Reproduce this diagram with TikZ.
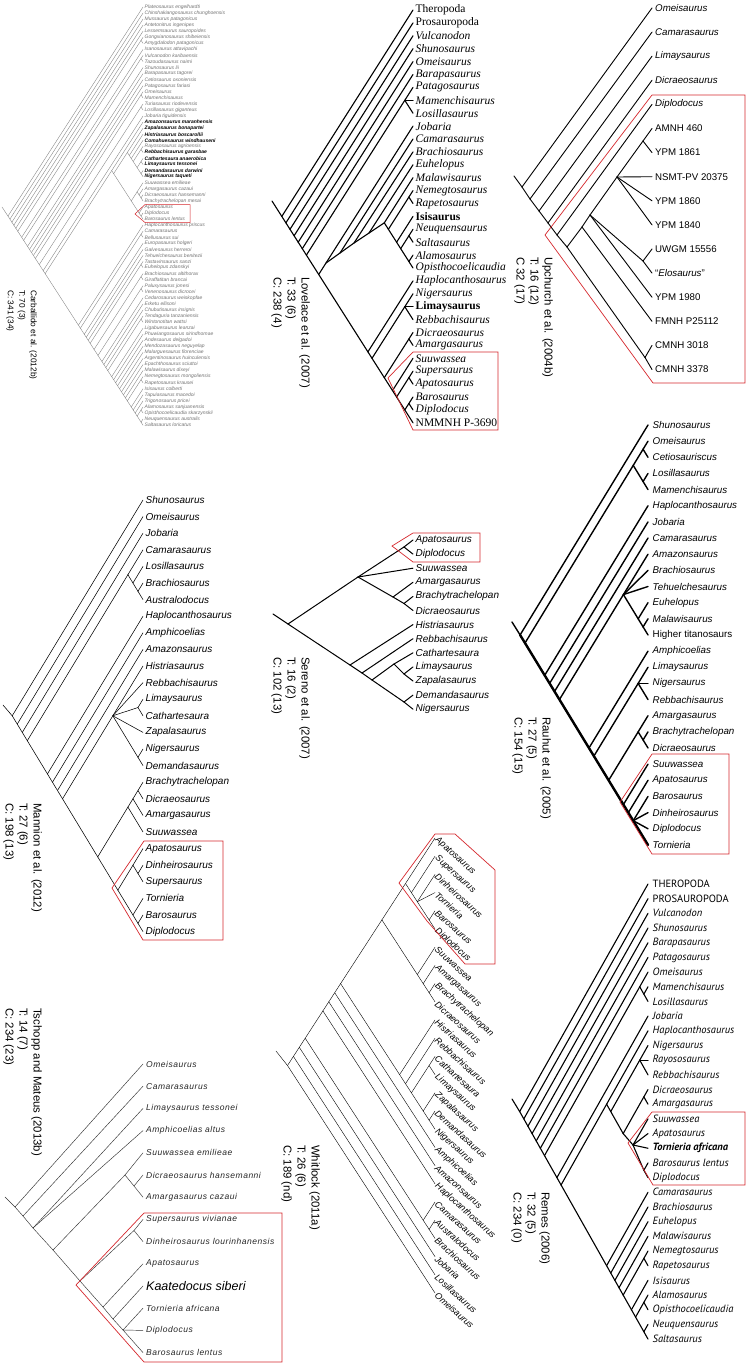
\documentclass[tikz,border=0pt]{standalone}
\usepackage{fontspec}
\setmainfont{Liberation Sans}
\newfontfamily\timesf{Liberation Serif}
\newfontfamily\myriadf{PT Sans}
\newfontfamily\spacedf[LetterSpace=6]{Liberation Sans}
\definecolor{boxred}{RGB}{214,40,46}
\tikzset{
  edge/.style={line width=1pt, line cap=round},
  lab/.style={anchor=west, inner xsep=2.5pt, inner ysep=0pt},
  ttl/.style={rotate=-90, anchor=north west, align=left, inner sep=0pt,
              font=\fontsize{11.4}{14}\selectfont},
  clade/.style={draw=boxred, line width=0.7pt, line join=miter}
}
% tree helpers: node (i-j) sits on the apex of leaves i..j
\newcommand\setnd[2]{\coordinate (\pre#1-#2) at ({\LX-(#2-#1)*\AA},{\TY+((#1+#2)/2-1)*\DY});}
\newcommand\mknd[2]{\ifcsname pgf@sh@ns@\pre#1-#2\endcsname\else\setnd{#1}{#2}\fi}
\newcommand\ed[3]{\mknd{#1}{#2}\foreach \ii/\jj in {#3}{\mknd{\ii}{\jj}\draw[edge] (\pre#1-#2) -- (\pre\ii-\jj);}}
\newcommand\comb[3]{\foreach \m [evaluate=\m as \nn using int(\m+1)] in {#1,...,#2}{\ed{\m}{#3}{\m/\m,\nn/#3}}}
\newcommand\cherry[1]{\pgfmathtruncatemacro\cc{#1+1}\ed{#1}{\cc}{#1/#1,\cc/\cc}}
\newcommand\leaves[1]{\foreach \tx [count=\kk] in {#1}{\coordinate (\pre\kk-\kk) at (\LX,{\TY+(\kk-1)*\DY}); \node[lab] (\pre t\kk) at (\pre\kk-\kk) {\tx};}}
\newcommand\rb[1]{{\bfseries\color{black}#1}}

\begin{document}
\begin{tikzpicture}[x=1pt, y=-1pt]
\fill[white] (0,0) rectangle (746,1363);
\useasboundingbox (0,0) rectangle (746,1363);

% Carballido et al. (2012b)
\begin{scope}[lab/.append style={font=\fontsize{5}{6}\selectfont\itshape, text=black!55, inner xsep=1.5pt},
  edge/.append style={line width=.35pt, draw=black!50}]
\def\pre{cb}\def\LX{143}\def\TY{7}\def\DY{6.06}\def\AA{1.957}
\leaves{Plateosaurus engelhardti, Chinshakiangosaurus chunghoensis, Mussaurus patagonicus, Antetonitrus ingenipes, Lessemsaurus sauropoides, Gongxianosaurus shibeiensis, Amygdalodon patagonicus, Isanosaurus attavipachi, Vulcanodon karibaensis, Tazoudasaurus naimi, Shunosaurus lii, Barapasaurus tagorei, Cetiosaurus oxoniensis, Patagosaurus fariasi, Omeisaurus, Mamenchisaurus, Turiasaurus riodevensis, Losillasaurus giganteus, Jobaria tiguidensis, \rb{Amazonsaurus maranhensis}, \rb{Zapalasaurus bonapartei}, \rb{Histriasaurus boscarollii}, \rb{Comahuesaurus windhauseni}, Rayososaurus agrioensis, \rb{Rebbachisaurus garasbae}, \rb{Cathartesaura anaerobica}, \rb{Limaysaurus tessonei}, \rb{Demandasaurus darwini}, \rb{Nigersaurus taqueti}, Suuwassea emilieae, Amargasaurus cazaui, Dicraeosaurus hansemanni, Brachytrachelopan mesai, Apatosaurus, Diplodocus, Barosaurus lentus, Haplocanthosaurus priscus, Camarasaurus, Bellusaurus sui, Europasaurus holgeri, Galvesaurus herreroi, Tehuelchesaurus benitezii, Tastavinsaurus sanzi, Euhelopus zdanskyi, Brachiosaurus altithorax, Giraffatitan brancai, Paluxysaurus jonesi, Venenosaurus dicrocei, Cedarosaurus weiskopfae, Erketu ellisoni, Chubutisaurus insignis, Tendaguria tanzaniensis, Wintonotitan wattsi, Ligabuesaurus leanzai, Phuwiangosaurus sirindhornae, Andesaurus delgadoi, Mendozasaurus neguyelap, Malarguesaurus florenciae, Argentinosaurus huinculensis, Epachthosaurus sciuttoi, Malawisaurus dixeyi, Nemegtosaurus mongoliensis, Rapetosaurus krausei, Isisaurus colberti, Tapuiasaurus macedoi, Trigonosaurus pricei, Alamosaurus sanjuanensis, Opisthocoelicaudia skarzynskii, Neuquensaurus australis, Saltasaurus loricatus}
\comb{1}{5}{70}
\ed{6}{70}{6/7,8/70}\cherry{6}
\ed{8}{70}{8/8,9/70}
\ed{9}{70}{9/10,11/70}\cherry{9}
\comb{11}{14}{70}
\ed{15}{70}{15/16,17/70}\cherry{15}
\ed{17}{70}{17/18,19/70}\cherry{17}
\ed{19}{70}{19/19,20/70}
\ed{20}{70}{20/36,37/70}
\ed{20}{36}{20/20,21/36}
\ed{21}{36}{21/29,30/36}
\comb{21}{23}{29}
\ed{24}{29}{24/25,26/29}\cherry{24}
\ed{26}{29}{26/27,28/29}\cherry{26}\cherry{28}
\ed{30}{36}{30/33,34/36}
\comb{30}{31}{33}\cherry{32}
\comb{34}{34}{36}\cherry{35}
\ed{37}{70}{37/37,38/70}
\ed{38}{70}{38/39,40/70}\cherry{38}
\comb{40}{42}{70}
\ed{43}{70}{43/44,45/70}\cherry{43}
\ed{45}{70}{45/46,47/70}\cherry{45}
\ed{47}{70}{47/48,49/70}\cherry{47}
\comb{49}{51}{70}
\ed{52}{70}{52/53,54/70}\cherry{52}
\comb{54}{61}{70}
\ed{62}{70}{62/63,64/70}\cherry{62}
\comb{64}{66}{70}
\ed{67}{70}{67/68,69/70}\cherry{67}\cherry{69}
\coordinate (cbst) at (2,207);
\draw[edge] (cbst) -- (cb1-70);
\draw[clade, line width=.5pt] (135,214) -- (145,204.5) -- (190,204.5) -- (190,222.5) -- (145,222.5) -- cycle;
\node[ttl, font=\fontsize{8.3}{11.5}\selectfont] (cbttl) at (37,290) {Carballido et al. (2012b)\\T: 70 (3)\\C: 341 (34)};
\end{scope}

% Lovelace et al. (2007)
\begin{scope}[lab/.append style={font=\timesf\itshape\fontsize{11.5}{13}\selectfont}, edge/.append style={line width=1.1pt}]
\def\pre{lv}\def\LX{413}\def\TY{10}\def\DY{12.9}\def\AA{4.1}
\leaves{\upshape Theropoda, \upshape Prosauropoda, Vulcanodon, Shunosaurus, Omeisaurus, Barapasaurus, Patagosaurus, Mamenchisaurus, Losillasaurus, Jobaria, Camarasaurus, Brachiosaurus, Euhelopus, Malawisaurus, Nemegtosaurus, Rapetosaurus, \upshape\bfseries Isisaurus, Neuquensaurus, Saltasaurus, Alamosaurus, Opisthocoelicaudia, Haplocanthosaurus, Nigersaurus, \upshape\bfseries Limaysaurus, Rebbachisaurus, Dicraeosaurus, Amargasaurus, Suuwassea, Supersaurus, Apatosaurus, Barosaurus, Diplodocus, \upshape NMMNH P-3690}
\coordinate (lv10-21) at (326,263);
\coordinate (lv11-21) at (340,253);
\coordinate (lv12-21) at (354,243);
\coordinate (lv13-21) at (369,233);
\comb{1}{6}{33}
\ed{7}{33}{7/9,10/33}
\ed{7}{9}{7/7,8/8,9/9}
\ed{10}{33}{10/21,22/33}
\comb{10}{13}{21}
\ed{14}{21}{14/14,15/21}
\ed{15}{21}{15/16,17/21}\cherry{15}
\ed{17}{21}{17/17,18/21}
\ed{18}{21}{18/19,20/21}\cherry{18}\cherry{20}
\ed{22}{33}{22/22,23/33}
\ed{23}{33}{23/25,26/33}
\ed{23}{25}{23/23,24/24,25/25}
\ed{26}{33}{26/27,28/33}\cherry{26}
\ed{28}{33}{28/28,29/33}
\ed{29}{33}{29/30,31/33}\cherry{29}
\ed{31}{33}{31/32,33/33}\cherry{31}
\coordinate (lvst) at (272,201);
\draw[edge] (lvst) -- (lv1-33);
\draw[clade] (413,352) -- (498,352) -- (498,430) -- (413,430) -- (388,378) -- cycle;
\node[ttl] (lvttl) at (310,277) {Lovelace et al. (2007)\\T: 33 (6)\\C: 238 (4)};
\end{scope}

% Upchurch et al. (2004b)
\begin{scope}[lab/.append style={font=\fontsize{9.7}{11}\selectfont, inner xsep=3pt}, edge/.append style={line width=.9pt}]
\def\pre{up}\def\LX{652}\def\TY{8}\def\DY{24.1}\def\AA{0}
\leaves{\itshape Omeisaurus, \itshape Camarasaurus, \itshape Limaysaurus, \itshape Dicraeosaurus, \itshape Diplodocus, AMNH 460, YPM 1861, NSMT-PV 20375, YPM 1860, YPM 1840, UWGM 15556, “\textit{Elosaurus}”, YPM 1980, FMNH P25112, CMNH 3018, CMNH 3378}
\coordinate (up1-16) at (522,187);
\coordinate (up2-16) at (530,199);
\coordinate (up3-16) at (539,211);
\coordinate (up4-16) at (548,223);
\coordinate (up5-16) at (557,235);
\coordinate (up6-16) at (567,247);
\coordinate (up6-14) at (582,227);
\coordinate (up6-13) at (590,215);
\coordinate (up6-10) at (617,177);
\coordinate (up6-7) at (643,141);
\coordinate (up11-12) at (643,261);
\coordinate (up15-16) at (645,357.5);
\comb{1}{4}{16}
\ed{5}{16}{5/5,6/16}
\ed{6}{16}{6/14,15/16}\cherry{15}
\ed{6}{14}{6/13,14/14}
\ed{6}{13}{6/10,11/12,13/13}\cherry{11}
\ed{6}{10}{6/7,8/8,9/9,10/10}\cherry{6}
\coordinate (upst) at (514,176);
\draw[edge] (upst) -- (up1-16);
\draw[clade] (652,95) -- (745,95) -- (745,383) -- (653,383) -- (545,235) -- cycle;
\node[ttl] (upttl) at (553,257) {Upchurch et al. (2004b)\\T: 16 (12)\\C 32 (17)};
\end{scope}

% Mannion et al. (2012)
\begin{scope}[lab/.append style={font=\fontsize{10}{12}\selectfont\itshape}, edge/.append style={line width=.55pt}]
\def\pre{mn}\def\LX{143}\def\TY{500}\def\DY{16.6}\def\AA{5.03}
\leaves{Shunosaurus, Omeisaurus, Jobaria, Camarasaurus, Losillasaurus, Brachiosaurus, Australodocus, Haplocanthosaurus, Amphicoelias, Amazonsaurus, Histriasaurus, Rebbachisaurus, Limaysaurus, Cathartesaura, Zapalasaurus, Nigersaurus, Demandasaurus, Brachytrachelopan, Dicraeosaurus, Amargasaurus, Suuwassea, Apatosaurus, Dinheirosaurus, Supersaurus, Tornieria, Barosaurus, Diplodocus}
\comb{1}{3}{27}
\ed{4}{27}{4/7,8/27}
\comb{4}{5}{7}\cherry{6}
\comb{8}{10}{27}
\ed{11}{27}{11/17,18/27}
\ed{11}{17}{11/11,12/12,13/14,15/15,16/17}\cherry{13}\cherry{16}
\ed{18}{27}{18/21,22/27}
\ed{18}{21}{18/20,21/21}
\ed{18}{20}{18/19,20/20}\cherry{18}
\ed{22}{27}{22/24,25/27}
\ed{22}{24}{22/22,23/24}\cherry{23}
\ed{25}{27}{25/25,26/27}\cherry{26}
\coordinate (mnst) at (3,705);
\draw[edge] (mnst) -- (mn1-27);
\draw[clade] (144,841) -- (223,841) -- (223,940) -- (143,940) -- (112,888) -- cycle;
\node[ttl] (mnttl) at (42,803) {Mannion et al. (2012)\\T: 27 (6)\\C: 198 (13)};
\end{scope}

% Sereno et al. (2007)
\begin{scope}[lab/.append style={font=\fontsize{10}{12}\selectfont\itshape}, edge/.append style={line width=1pt}]
\def\pre{sr}\def\LX{413}\def\TY{540}\def\DY{14.1}\def\AA{0}
\leaves{Apatosaurus, Diplodocus, Suuwassea, Amargasaurus, Brachytrachelopan, Dicraeosaurus, Histriasaurus, Rebbachisaurus, Cathartesaura, Limaysaurus, Zapalasaurus, Demandasaurus, Nigersaurus}
\coordinate (sr1-13) at (288,624);
\coordinate (sr1-6) at (358,577);
\coordinate (sr1-2) at (404,547);
\coordinate (sr4-6) at (393,597);
\coordinate (sr5-6) at (404,603.5);
\coordinate (sr7-13) at (350,665);
\coordinate (sr8-13) at (362,673);
\coordinate (sr9-13) at (372,680);
\coordinate (sr9-11) at (394,664);
\coordinate (sr10-11) at (404,674);
\coordinate (sr12-13) at (404,702);
\ed{1}{13}{1/6,7/13}
\ed{1}{6}{1/2,3/3,4/6}\cherry{1}
\ed{4}{6}{4/4,5/6}\cherry{5}
\ed{7}{13}{7/7,8/13}
\ed{8}{13}{8/8,9/13}
\ed{9}{13}{9/11,12/13}\cherry{12}
\ed{9}{11}{9/9,10/11}\cherry{10}
\coordinate (srst) at (273,614);
\draw[edge] (srst) -- (sr1-13);
\draw[clade] (392,546) -- (413,533) -- (480,533) -- (480,562) -- (413,562) -- cycle;
\node[ttl] (srttl) at (310,657) {Sereno et al. (2007)\\T: 16 (2)\\C: 102 (13)};
\end{scope}

% Rauhut et al. (2005)
\begin{scope}[lab/.append style={font=\fontsize{9.8}{12}\selectfont\itshape, inner xsep=4.5pt}, edge/.append style={line width=1.4pt}]
\def\pre{rh}\def\LX{648}\def\TY{425}\def\DY{16.15}\def\AA{4.92}
\leaves{Shunosaurus, Omeisaurus, Cetiosauriscus, Losillasaurus, Mamenchisaurus, Haplocanthosaurus, Jobaria, Camarasaurus, Amazonsaurus, Brachiosaurus, Tehuelchesaurus, Euhelopus, Malawisaurus, \upshape Higher titanosaurs, Amphicoelias, Limaysaurus, Nigersaurus, Rebbachisaurus, Amargasaurus, Brachytrachelopan, Dicraeosaurus, Suuwassea, Apatosaurus, Barosaurus, Dinheirosaurus, Diplodocus, Tornieria}
\ed{1}{27}{1/1,2/27}
\ed{2}{27}{2/5,6/27}
\ed{2}{5}{2/3,4/5}\cherry{2}\cherry{4}
\comb{6}{8}{27}
\ed{9}{27}{9/14,15/27}
\ed{9}{14}{9/9,10/10,11/11,12/14}
\ed{12}{14}{12/12,13/14}\cherry{13}
\ed{15}{27}{15/15,16/27}
\ed{16}{27}{16/18,19/27}
\ed{16}{18}{16/16,17/17,18/18}
\ed{19}{27}{19/21,22/27}
\ed{19}{21}{19/19,20/21}\cherry{20}
\comb{22}{23}{27}
\ed{24}{27}{24/24,25/25,26/26,27/27}
\coordinate (rhst) at (512,622);
\draw[edge] (rhst) -- (rh1-27);
\draw[edge, line width=2.4pt] (rh1-27) -- (rh27-27);
\draw[clade] (652,754) -- (729,754) -- (729,854) -- (652,854) -- (620,802) -- cycle;
\node[ttl] (rhttl) at (551,717) {Rauhut et al. (2005)\\T: 27 (5)\\C: 154 (15)};
\end{scope}

% Tschopp and Mateus (2013b)
\begin{scope}[lab/.append style={font=\spacedf\fontsize{8.5}{10}\selectfont\itshape, text=black!85, inner xsep=3pt}, edge/.append style={line width=.45pt, draw=black!80}]
\def\pre{ts}\def\LX{143}\def\TY{1064}\def\DY{22.2}\def\AA{0}
\leaves{Omeisaurus, Camarasaurus, Limaysaurus tessonei, Amphicoelias altus, Suuwassea emilieae, Dicraeosaurus hansemanni, Amargasaurus cazaui, Supersaurus vivianae, Dinheirosaurus lourinhanensis, Apatosaurus, {\rmfamily\itshape\fontsize{12.5}{14}\selectfont\color{black}Kaatedocus siberi}, Tornieria africana, Diplodocus, Barosaurus lentus}
\coordinate (ts1-14) at (15,1207);
\coordinate (ts2-14) at (23,1216);
\coordinate (ts3-14) at (33,1228);
\coordinate (ts5-14) at (53,1250);
\coordinate (ts5-7) at (125,1175);
\coordinate (ts6-7) at (134,1186);
\coordinate (ts8-14) at (80,1281);
\coordinate (ts8-9) at (134,1230.5);
\coordinate (ts10-14) at (103,1307);
\coordinate (ts11-14) at (113,1319);
\coordinate (ts12-14) at (123,1330);
\ed{1}{14}{1/1,2/14}
\ed{2}{14}{2/2,3/14}
\ed{3}{14}{3/3,4/4,5/14}
\ed{5}{14}{5/7,8/14}
\ed{5}{7}{5/5,6/7}\cherry{6}
\ed{8}{14}{8/9,10/14}\cherry{8}
\ed{10}{14}{10/10,11/14}
\ed{11}{14}{11/11,12/14}
\ed{12}{14}{12/12,13/13,14/14}
\coordinate (tsst) at (5,1197);
\draw[edge] (tsst) -- (ts1-14);
\draw[clade] (144,1213) -- (282,1213) -- (282,1362) -- (144,1362) -- (76,1285) -- cycle;
\node[ttl] (tsttl) at (42,1008) {Tschopp and Mateus (2013b)\\T: 14 (7)\\C: 234 (23)};
\end{scope}

% Whitlock (2011a)
\begin{scope}[lab/.append style={font=\fontsize{9}{10}\selectfont\itshape, rotate=-42, inner xsep=1.5pt}, edge/.append style={line width=.4pt}]
\def\pre{wh}\def\LX{435}\def\TY{838}\def\DY{18.2}\def\AA{5.9}
\leaves{Apatosaurus, Supersaurus, Dinheirosaurus, Tornieria, Barosaurus, Diplodocus, Suuwassea, Amargasaurus, Brachytrachelopan, Dicraeosaurus, Histriasaurus, Rebbachisaurus, Cathartesaura, Limaysaurus, Zapalasaurus, Demandasaurus, Nigersaurus, Amphicoelias, Amazonsaurus, Haplocanthosaurus, Camarasaurus, Australodocus, Brachiosaurus, Jobaria, Losillasaurus, Omeisaurus}
\ed{1}{26}{1/25,26/26}
\ed{1}{25}{1/24,25/25}
\ed{1}{24}{1/23,24/24}
\ed{1}{23}{1/20,21/23}
\ed{21}{23}{21/21,22/23}\cherry{22}
\ed{1}{20}{1/19,20/20}
\ed{1}{19}{1/18,19/19}
\ed{1}{18}{1/17,18/18}
\ed{1}{17}{1/10,11/17}
\ed{11}{17}{11/11,12/17}
\ed{12}{17}{12/12,13/17}
\ed{13}{17}{13/14,15/17}\cherry{13}
\ed{15}{17}{15/15,16/17}\cherry{16}
\ed{1}{10}{1/6,7/10}
\ed{7}{10}{7/7,8/10}
\ed{8}{10}{8/8,9/10}\cherry{9}
\ed{1}{6}{1/1,2/6}
\ed{2}{6}{2/2,3/6}
\ed{3}{6}{3/3,4/4,5/6}\cherry{5}
\coordinate (whst) at (276,1051);
\draw[edge] (whst) -- (wh1-26);
\draw[clade] (399,883) -- (435,834) -- (455,834) -- (495,870) -- (495,964) -- (465,964) -- (427,921) -- cycle;
\node[ttl] (whttl) at (320,1145) {Whitlock (2011a)\\T: 26 (6)\\C: 189 (nd)};
\end{scope}

% Remes (2006)
\begin{scope}[lab/.append style={font=\myriadf\fontsize{10.5}{12}\selectfont\itshape, inner xsep=4.5pt}, edge/.append style={line width=1.1pt}]
\def\pre{rm}\def\LX{648}\def\TY{884}\def\DY{14.68}\def\AA{4.14}
\leaves{\upshape THEROPODA, \upshape PROSAUROPODA, Vulcanodon, Shunosaurus, Barapasaurus, Patagosaurus, Omeisaurus, Mamenchisaurus, Losillasaurus, Jobaria, Haplocanthosaurus, Nigersaurus, Rayososaurus, Rebbachisaurus, Dicraeosaurus, Amargasaurus, Suuwassea, Apatosaurus, \bfseries Tornieria africana, Barosaurus lentus, Diplodocus, Camarasaurus, Brachiosaurus, Euhelopus, Malawisaurus, Nemegtosaurus, Rapetosaurus, Isisaurus, Alamosaurus, Opisthocoelicaudia, Neuquensaurus, Saltasaurus}
\coordinate (rm17-21) at (633,1145);
\comb{1}{6}{32}
\ed{7}{32}{7/9,10/32}
\ed{7}{9}{7/7,8/9}\cherry{8}
\ed{10}{32}{10/10,11/32}
\ed{11}{32}{11/21,22/32}
\ed{11}{21}{11/11,12/21}
\ed{12}{21}{12/14,15/21}
\ed{12}{14}{12/12,13/13,14/14}
\ed{15}{21}{15/16,17/21}\cherry{15}
\ed{17}{21}{17/17,18/18,19/19,20/21}\cherry{20}
\comb{22}{25}{32}
\ed{26}{32}{26/27,28/32}\cherry{26}
\ed{28}{32}{28/28,29/32}
\ed{29}{32}{29/30,31/32}\cherry{29}\cherry{31}
\coordinate (rmst) at (512,1099);
\draw[edge] (rmst) -- (rm1-32);
\draw[clade] (652,1112) -- (745,1112) -- (745,1185) -- (653,1185) -- (628,1143) -- cycle;
\node[ttl] (rmttl) at (550,1192) {Remes (2006)\\T: 32 (5)\\C: 234 (0)};
\end{scope}
\end{tikzpicture}
\end{document}
